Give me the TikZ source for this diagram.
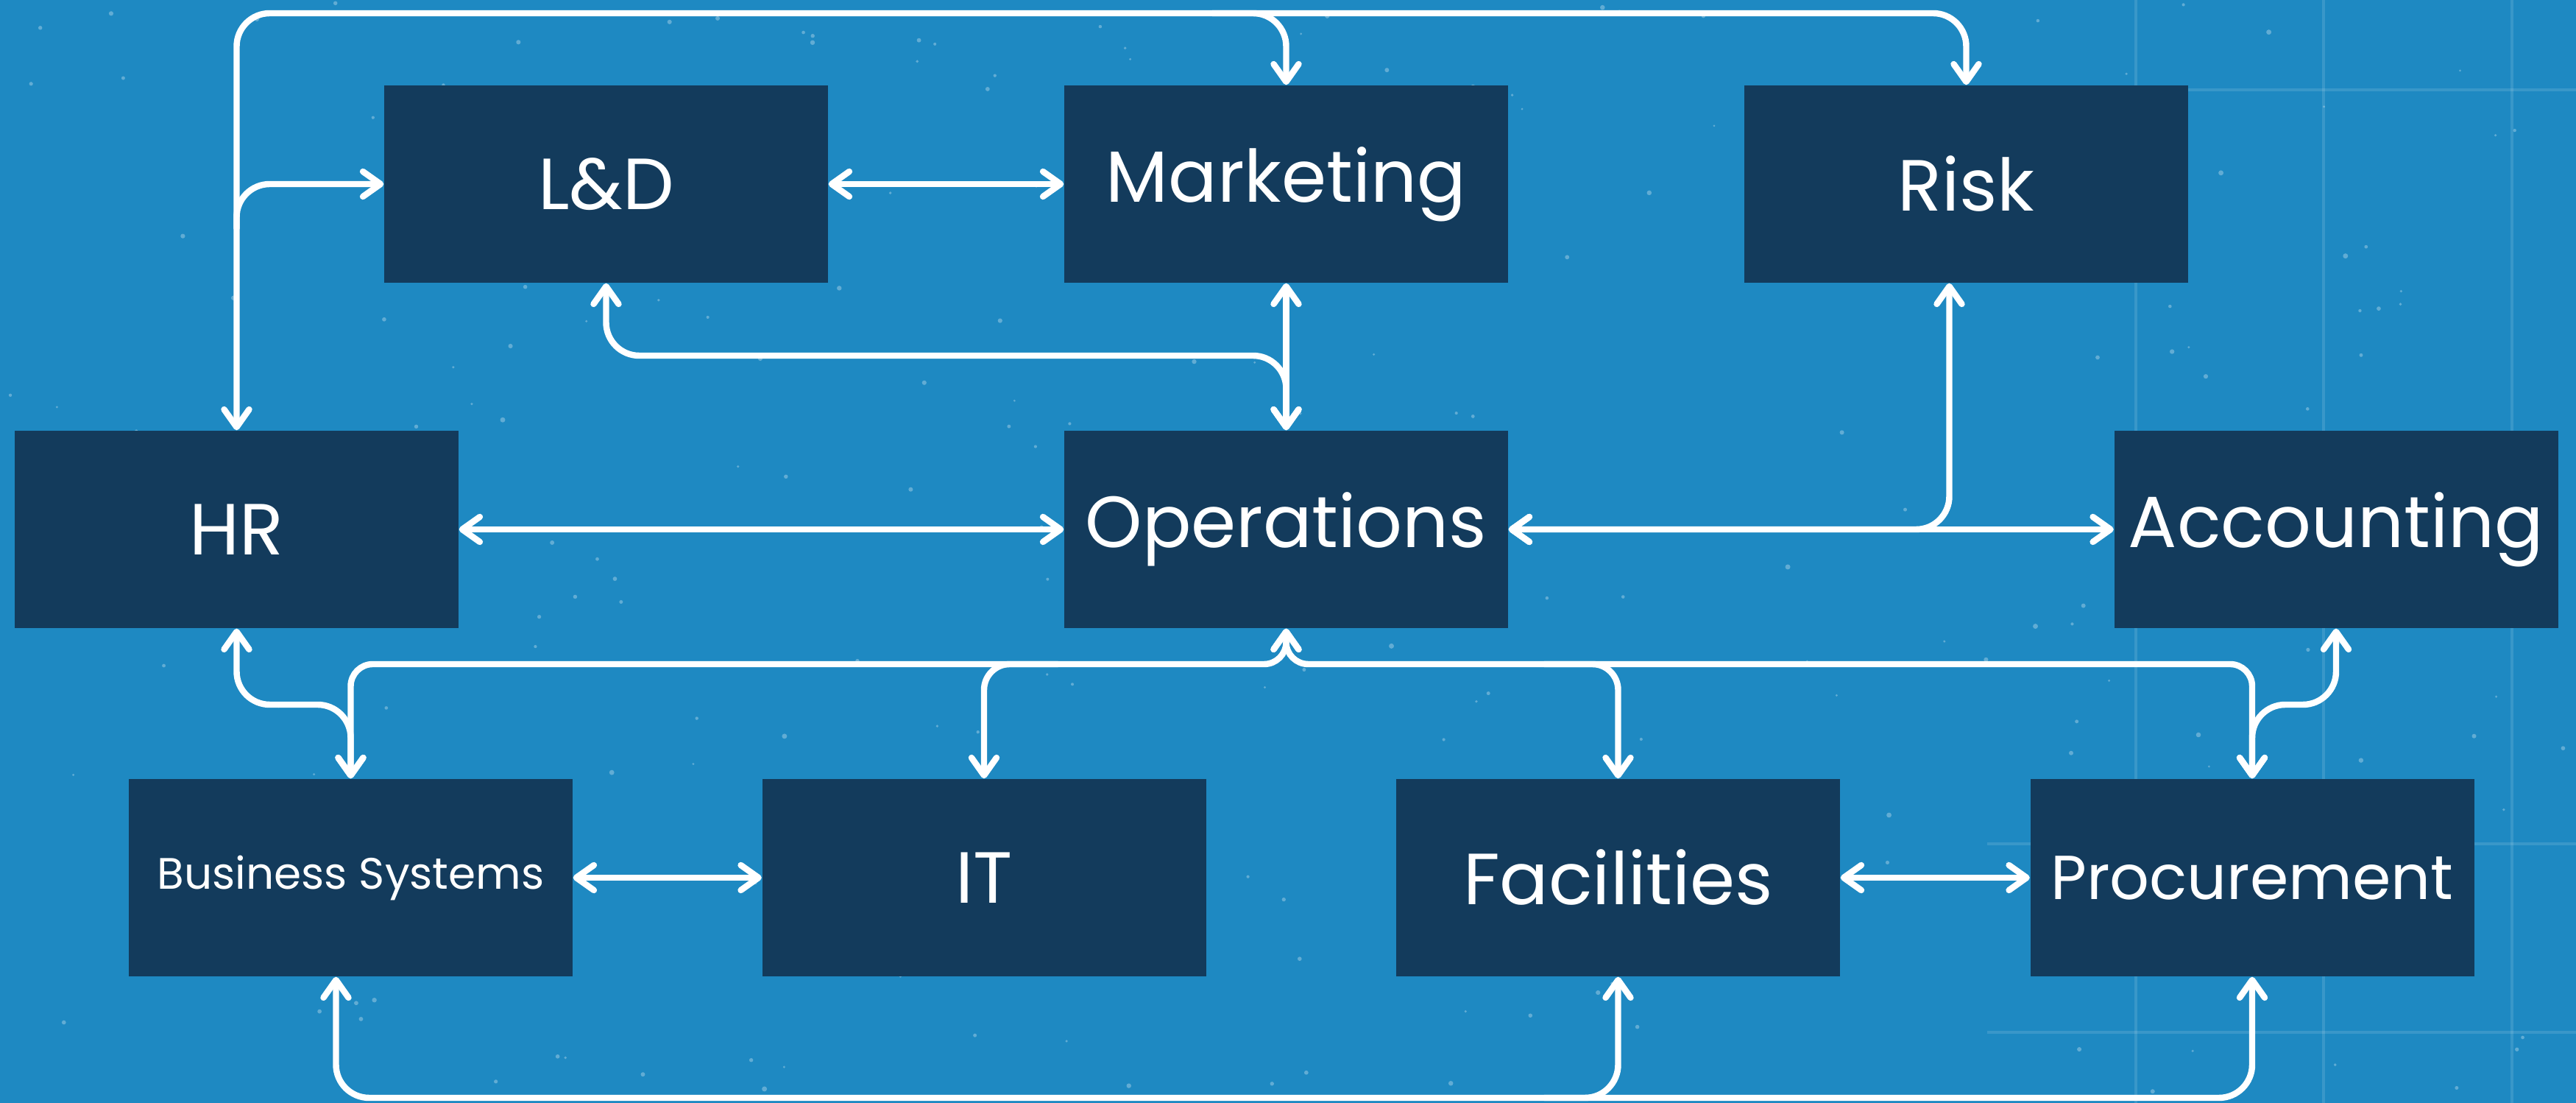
\documentclass[tikz,border=0pt]{standalone}
\usepackage{fontspec}
\setmainfont{Poppins}
\usetikzlibrary{arrows.meta,calc}

\definecolor{boardblue}{RGB}{30,137,194}
\definecolor{deptblue}{RGB}{19,59,92}

\tikzset{
	dept/.style={rectangle, fill=deptblue, text=white, inner sep=0pt,
		minimum width=6.03cm, minimum height=2.68cm,
		font=\fontsize{28}{32}\selectfont},
	link/.style={draw=white, line width=2.4pt, line cap=round, rounded corners=4.5mm},
	>={Straight Barb[length=2.4mm,width=3.4mm,round]}
}

\begin{document}
\begin{tikzpicture}
	
	% Board
	\fill[boardblue] (0,0) rectangle (35,14.98);
	\useasboundingbox (0,0) rectangle (35,14.98);
	
	\pgfmathsetseed{12}
	\foreach \i in {1,...,260} {
		\fill[white,opacity=0.3] (rnd*35,rnd*14.98) circle (0.015+0.02*rnd);
	}
	
	\foreach \gx in {29.02,31.57,34.13} {
		\draw[white,opacity=0.12,line width=1.2pt] (\gx,0) -- (\gx,14.98);
	}
	\foreach \gy in {0.96,3.52,13.76} {
		\draw[white,opacity=0.12,line width=1.2pt] (27,\gy) -- (35,\gy);
	}
	
	% Departments
	\node[dept] (ld)   at (8.235,12.48) {L\&D};
	\node[dept] (mkt)  at (17.475,12.48) {Marketing};
	\node[dept] (risk) at (26.715,12.48) {Risk};
	
	\node[dept] (hr)   at (3.215,7.79) {HR};
	\node[dept] (ops)  at (17.475,7.79) {Operations};
	\node[dept] (acc)  at (31.74,7.79) {Accounting};
	
	\node[dept,font=\fontsize{17}{20}\selectfont] (bs) at (4.765,3.06) {Business Systems};
	\node[dept] (it)   at (13.37,3.06) {IT};
	\node[dept] (fac)  at (21.985,3.06) {Facilities};
	\node[dept,font=\fontsize{24}{28}\selectfont] (proc) at (30.6,3.06) {Procurement};
	
	% Rails
	\coordinate (toprail) at (0,14.80);
	\coordinate (midrail) at (0,10.15);
	\coordinate (busrail) at (0,5.96);
	\coordinate (sbend)   at (0,5.41);
	\coordinate (botrail) at (0,0.07);
	\coordinate (riskfoot) at ([xshift=-2.3mm]risk.south);
	\coordinate (bsfoot)   at ([xshift=-2mm]bs.south);
	
	% Top links
	\draw[link,<->] (hr.north) -- (hr.north |- toprail) -- (mkt.north |- toprail) -- (mkt.north);
	\draw[link,->] ($(mkt.north |- toprail)+(-1,0)$) -- (risk.north |- toprail) -- (risk.north);
	\draw[link,->] ($(hr.north |- ld.west)+(0,-0.6)$) -- (hr.north |- ld.west) -- (ld.west);
	
	\draw[link,<->] (ld.east) -- (mkt.west);
	\draw[link,<->] (ld.south) -- (ld.south |- midrail) -- (ops.north |- midrail) -- (ops.north);
	\draw[link,<->] (mkt.south) -- (ops.north);
	
	% Middle row
	\draw[link,<->] (hr.east) -- (ops.west);
	\draw[link,<->] (ops.east) -- (acc.west);
	\draw[link,<->] (riskfoot) -- (riskfoot |- ops.east) -- (ops.east);
	
	% Lower bus
	\draw[link,<->,rounded corners=3mm] (ops.south) -- (ops.south |- busrail) -- (bs.north |- busrail) -- (bs.north);
	\draw[link,<->,rounded corners=3mm] (ops.south) -- (ops.south |- busrail) -- (proc.north |- busrail) -- (proc.north);
	\draw[link,->,rounded corners=3.5mm] ($(it.north |- busrail)+(1,0)$) -- (it.north |- busrail) -- (it.north);
	\draw[link,->,rounded corners=3.5mm] ($(fac.north |- busrail)+(-1,0)$) -- (fac.north |- busrail) -- (fac.north);
	
	\draw[link,<->] (hr.south) -- (hr.south |- sbend) -- (bs.north |- sbend) -- (bs.north);
	\draw[link,<->] (acc.south) -- (acc.south |- sbend) -- (proc.north |- sbend) -- (proc.north);
	
	% Bottom row
	\draw[link,<->] (bs.east) -- (it.west);
	\draw[link,<->] (fac.east) -- (proc.west);
	
	\draw[link,<->] (bsfoot) -- (bsfoot |- botrail) -- (proc.south |- botrail) -- (proc.south);
	\draw[link,->] ($(fac.south |- botrail)+(-1,0)$) -- (fac.south |- botrail) -- (fac.south);
	
\end{tikzpicture}
\end{document}
